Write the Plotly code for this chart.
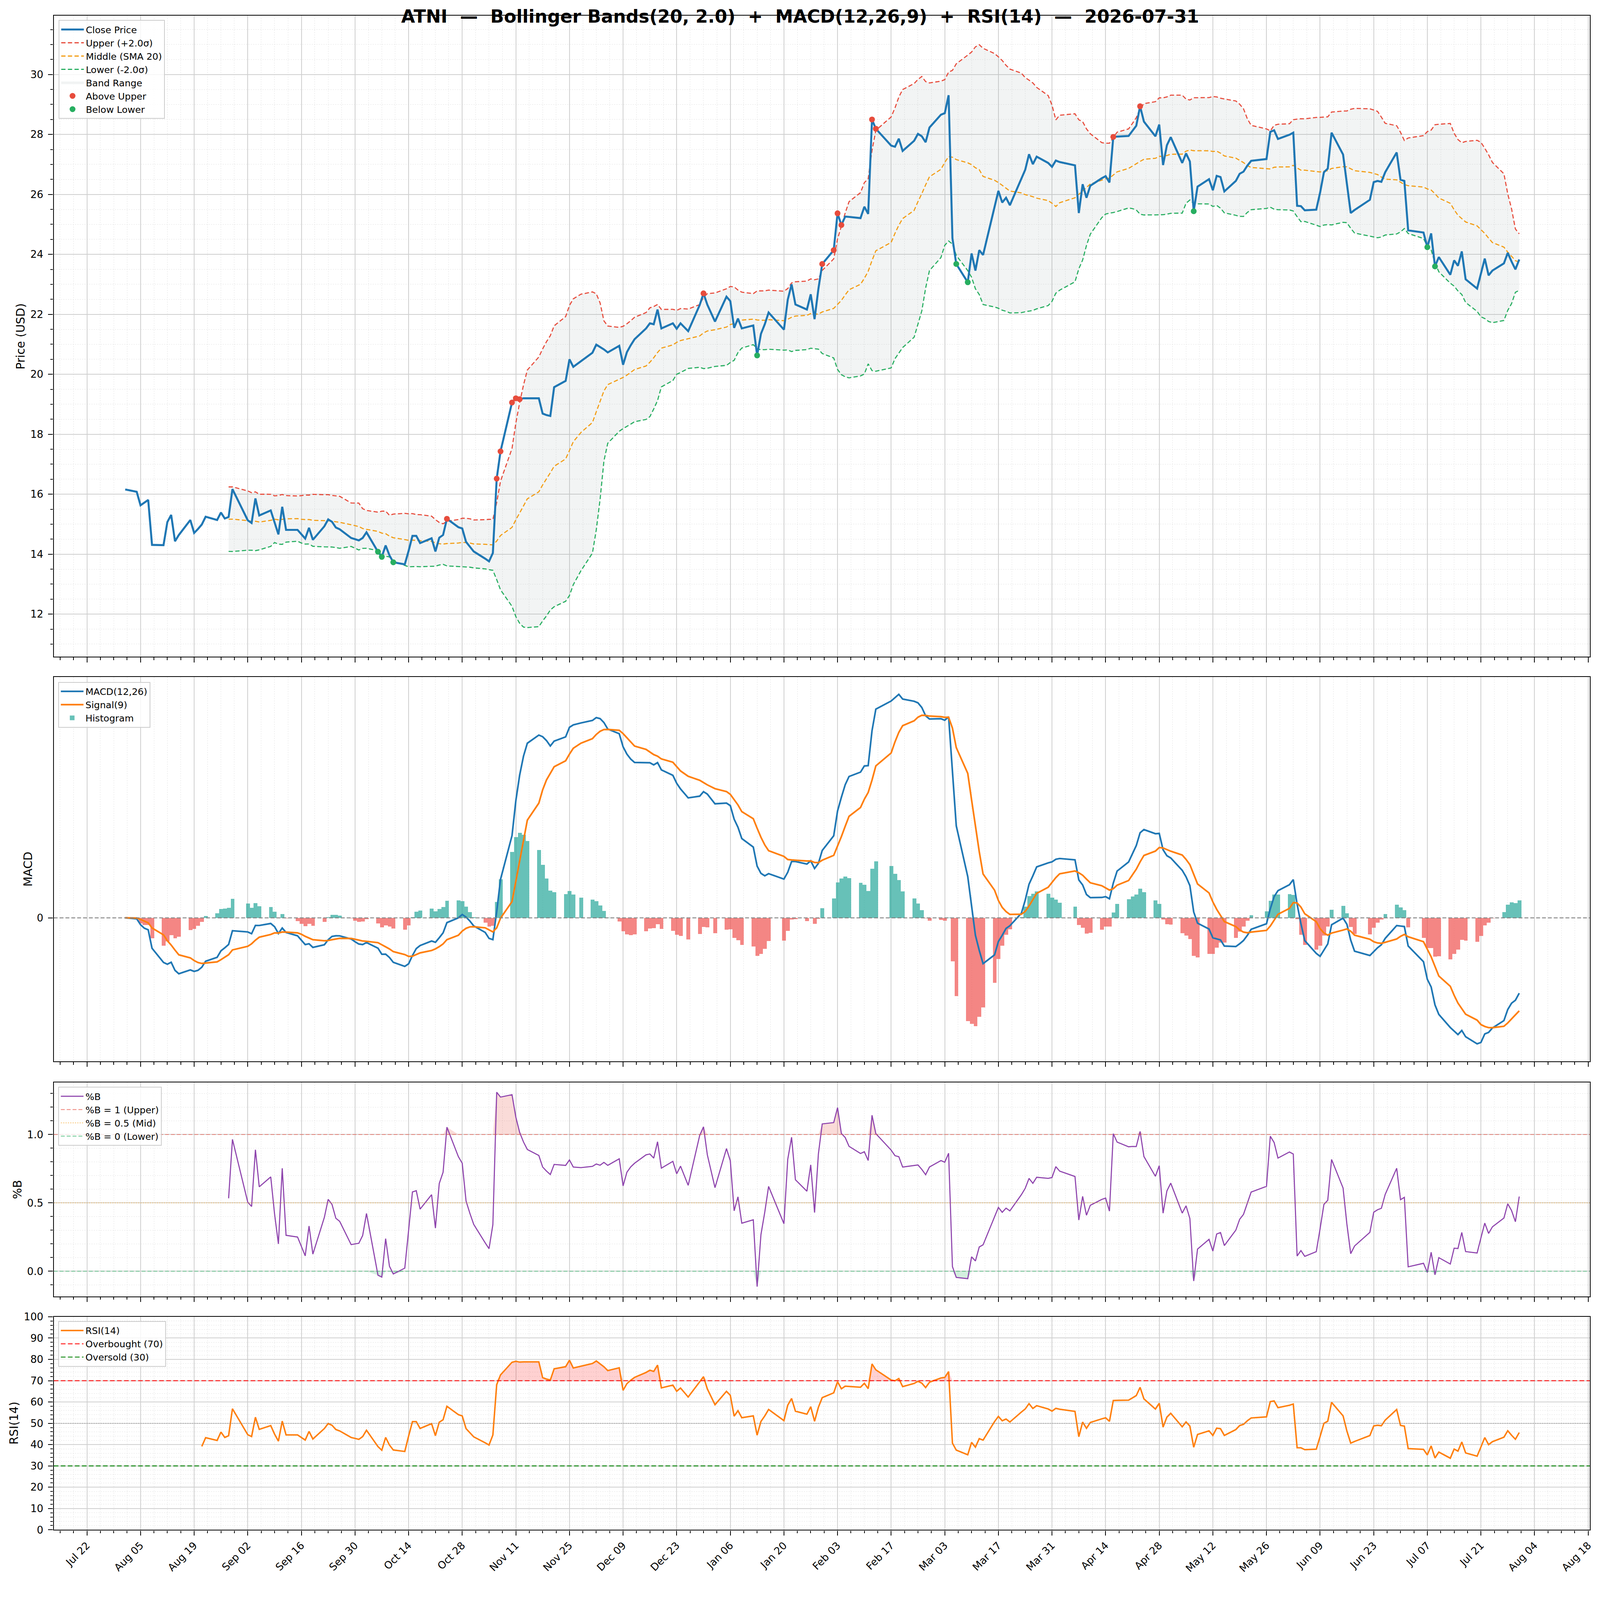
import numpy as np
import pandas as pd
import plotly.graph_objects as go

# ---- data ----
TICKER = "ATNI"
AS_OF = "2026-07-31"
HOLIDAYS = ["2025-09-01", "2025-11-27", "2025-12-25", "2026-01-01", "2026-01-19",
            "2026-02-16", "2026-04-03", "2026-05-25", "2026-06-19", "2026-07-03"]

close_2025_08 = [16.16, 16.08, 15.63, 15.72, 15.81, 14.31, 14.30, 15.07, 15.31, 14.43, 14.64,
                 15.14, 14.71, 14.84, 14.99, 15.25, 15.14, 15.39, 15.19, 15.24, 16.17]
close_2025_09 = [15.13, 15.04, 15.86, 15.29, 15.46, 15.04, 14.66, 15.58, 14.81, 14.81, 14.66,
                 14.52, 14.88, 14.48, 14.93, 15.16, 15.08, 14.89, 14.83, 14.54, 14.50]
close_2025_10 = [14.46, 14.54, 14.73, 14.08, 13.91, 14.29, 13.96, 13.73, 13.66, 14.11, 14.61,
                 14.61, 14.37, 14.53, 14.09, 14.55, 14.64, 15.18, 14.90, 14.86, 14.41, 14.25, 14.09]
close_2025_11 = [13.85, 13.76, 14.04, 16.52, 17.43, 19.06, 19.20, 19.17, 19.20, 19.20, 19.20,
                 18.69, 18.64, 18.61, 19.57, 19.78, 20.50, 20.25, 20.44]
close_2025_12 = [20.72, 20.99, 20.91, 20.83, 20.73, 20.95, 20.32, 20.74, 20.97, 21.17, 21.53,
                 21.70, 21.67, 22.16, 21.53, 21.70, 21.52, 21.70, 21.44, 22.31, 22.70, 22.32]
close_2026_01 = [21.76, 22.59, 22.44, 21.55, 21.86, 21.53, 21.63, 20.63, 21.35, 21.67, 22.06,
                 21.49, 22.49, 23.00, 22.33, 22.16, 22.67, 21.84, 22.85, 23.68]
close_2026_02 = [24.14, 25.37, 24.98, 25.26, 25.25, 25.21, 25.59, 25.35, 28.50, 28.19, 27.63,
                 27.59, 27.86, 27.45, 27.79, 28.02, 27.94, 27.74, 28.23]
close_2026_03 = [28.66, 28.71, 29.31, 24.54, 23.68, 23.07, 24.03, 23.46, 24.14, 23.98, 25.60,
                 26.12, 25.73, 25.89, 25.64, 26.53, 26.82, 27.34, 27.01, 27.26, 27.05, 26.92]
close_2026_04 = [27.13, 27.08, 26.97, 25.38, 26.34, 25.89, 26.29, 26.54, 26.61, 26.40, 27.92,
                 27.93, 27.95, 28.12, 28.29, 28.94, 28.43, 27.94, 28.33, 26.98, 27.64]
close_2026_05 = [27.91, 27.05, 27.37, 27.10, 25.44, 26.26, 26.51, 26.14, 26.62, 26.58, 26.10,
                 26.45, 26.69, 26.76, 26.96, 27.12, 27.18, 28.09, 28.14, 27.85]
close_2026_06 = [27.99, 28.06, 25.62, 25.61, 25.47, 25.49, 26.06, 26.74, 26.86, 28.06, 27.33,
                 26.34, 25.38, 25.48, 25.82, 26.41, 26.45, 26.42, 26.74, 27.40, 26.49]
close_2026_07 = [26.45, 24.80, 24.73, 24.24, 24.70, 23.60, 23.91, 23.32, 23.80, 23.62, 24.10,
                 23.17, 22.86, 23.34, 23.86, 23.30, 23.46, 23.70, 24.05, 23.76, 23.50, 23.83]

BB_N, BB_K = 20, 2.0
dates = pd.bdate_range("2025-08-01", AS_OF, freq="C", holidays=HOLIDAYS)
close = pd.Series(close_2025_08 + close_2025_09 + close_2025_10 + close_2025_11 +
                  close_2025_12 + close_2026_01 + close_2026_02 + close_2026_03 +
                  close_2026_04 + close_2026_05 + close_2026_06 + close_2026_07, index=dates)

# indicators
mid = close.rolling(BB_N).mean()
sd = close.rolling(BB_N).std()
upper = mid + BB_K * sd
lower = mid - BB_K * sd
pctb = (close - lower) / (upper - lower)

macd = close.ewm(span=12, adjust=False).mean() - close.ewm(span=26, adjust=False).mean()
signal = macd.ewm(span=9, adjust=False).mean()
hist = macd - signal

delta = close.diff()
gain = delta.clip(lower=0).ewm(alpha=1 / 14, adjust=False, min_periods=14).mean()
loss = (-delta.clip(upper=0)).ewm(alpha=1 / 14, adjust=False, min_periods=14).mean()
rsi = 100 - 100 / (1 + gain / loss)

bb = mid.notna()
above = close[close > upper]
below = close[close < lower]

# ---- figure ----
# the page shows up ~1.07x enlarged in the photo, so lay out in a smaller css box
F = 4378 / 4096
W, H = 4080, 4030
FONT = "DejaVu Sans"
XR = [pd.Timestamp("2025-07-13 08:00"), pd.Timestamp("2026-08-18 10:00")]
DAY = 86400000


def s(v):
    return v / F


def fx(px):
    return (px / F - 8) / W


def fy(py):
    return 1 - (py / F - 8) / H


def ydom(top, bot):
    return [fy(bot), fy(top)]


def padded(*series, frac=0.05):
    lo = min(float(q.min()) for q in series)
    hi = max(float(q.max()) for q in series)
    return [lo - frac * (hi - lo), hi + frac * (hi - lo)]


XDOM = [fx(147), fx(4350)]
DASH = f"{s(12):.0f}px,{s(6):.0f}px"

grid_major = dict(showgrid=True, gridcolor="#cfcfcf", gridwidth=s(2))
minor_style = dict(ticks="outside", ticklen=s(7), tickwidth=s(2), tickcolor="black",
                   showgrid=True, gridcolor="#e3e3e3", gridwidth=s(1.5), griddash="dot")
axis_line = dict(showline=True, linecolor="black", linewidth=s(2.5), mirror=True,
                 ticks="outside", ticklen=s(13), tickwidth=s(2.5), tickcolor="black",
                 automargin=False, zeroline=False,
                 tickfont=dict(size=s(28), family=FONT, color="black"))
STANDOFF = 7

fig = go.Figure()

# price panel
fig.add_trace(go.Scatter(x=dates[bb], y=upper[bb], mode="lines", line=dict(width=0),
                         showlegend=False, hoverinfo="skip", xaxis="x", yaxis="y"))
fig.add_trace(go.Scatter(x=dates[bb], y=lower[bb], mode="lines", line=dict(width=0.5, color="#dfe4e4"),
                         fill="tonexty", fillcolor="rgba(149,165,166,0.12)", name="Band Range",
                         legend="legend", legendrank=5, xaxis="x", yaxis="y"))
fig.add_trace(go.Scatter(x=dates[bb], y=upper[bb], mode="lines", name="Upper (+2.0σ)",
                         line=dict(color="#e74c3c", width=s(3), dash=DASH),
                         legend="legend", legendrank=2, xaxis="x", yaxis="y"))
fig.add_trace(go.Scatter(x=dates[bb], y=mid[bb], mode="lines", name="Middle (SMA 20)",
                         line=dict(color="#f39c12", width=s(3), dash=DASH),
                         legend="legend", legendrank=3, xaxis="x", yaxis="y"))
fig.add_trace(go.Scatter(x=dates[bb], y=lower[bb], mode="lines", name="Lower (-2.0σ)",
                         line=dict(color="#27ae60", width=s(3), dash=DASH),
                         legend="legend", legendrank=4, xaxis="x", yaxis="y"))
fig.add_trace(go.Scatter(x=dates, y=close, mode="lines", name="Close Price",
                         line=dict(color="#1f77b4", width=s(5.5)),
                         legend="legend", legendrank=1, xaxis="x", yaxis="y"))
fig.add_trace(go.Scatter(x=above.index, y=above, mode="markers", name="Above Upper",
                         marker=dict(color="#e74c3c", size=s(16)),
                         legend="legend", legendrank=6, xaxis="x", yaxis="y"))
fig.add_trace(go.Scatter(x=below.index, y=below, mode="markers", name="Below Lower",
                         marker=dict(color="#27ae60", size=s(16)),
                         legend="legend", legendrank=7, xaxis="x", yaxis="y"))

# MACD panel
bar_colors = np.where(hist >= 0, "rgba(38,166,154,0.7)", "rgba(239,83,80,0.7)")
fig.add_trace(go.Bar(x=dates, y=hist, width=DAY, marker=dict(color=bar_colors, line=dict(width=0)),
                     name="Histogram", legend="legend2", legendrank=3, xaxis="x2", yaxis="y2"))
fig.add_trace(go.Scatter(x=dates, y=macd, mode="lines", name="MACD(12,26)",
                         line=dict(color="#1f77b4", width=s(4.5)),
                         legend="legend2", legendrank=1, xaxis="x2", yaxis="y2"))
fig.add_trace(go.Scatter(x=dates, y=signal, mode="lines", name="Signal(9)",
                         line=dict(color="#ff7f0e", width=s(4.5)),
                         legend="legend2", legendrank=2, xaxis="x2", yaxis="y2"))

# %B panel
pb = pctb[bb]
fig.add_trace(go.Scatter(x=pb.index, y=pb * 0 + 1, mode="lines", line=dict(width=0),
                         showlegend=False, hoverinfo="skip", xaxis="x3", yaxis="y3"))
fig.add_trace(go.Scatter(x=pb.index, y=pb.clip(lower=1), mode="lines", line=dict(width=0),
                         fill="tonexty", fillcolor="rgba(231,76,60,0.2)",
                         showlegend=False, hoverinfo="skip", xaxis="x3", yaxis="y3"))
fig.add_trace(go.Scatter(x=pb.index, y=pb * 0, mode="lines", line=dict(width=0),
                         showlegend=False, hoverinfo="skip", xaxis="x3", yaxis="y3"))
fig.add_trace(go.Scatter(x=pb.index, y=pb.clip(upper=0), mode="lines", line=dict(width=0),
                         fill="tonexty", fillcolor="rgba(39,174,96,0.2)",
                         showlegend=False, hoverinfo="skip", xaxis="x3", yaxis="y3"))
fig.add_trace(go.Scatter(x=pb.index, y=pb, mode="lines", name="%B",
                         line=dict(color="#8e44ad", width=s(3)),
                         legend="legend3", legendrank=1, xaxis="x3", yaxis="y3"))

# RSI panel
rs = rsi.dropna()
fig.add_trace(go.Scatter(x=rs.index, y=rs * 0 + 70, mode="lines", line=dict(width=0),
                         showlegend=False, hoverinfo="skip", xaxis="x4", yaxis="y4"))
fig.add_trace(go.Scatter(x=rs.index, y=rs.clip(lower=70), mode="lines", line=dict(width=0),
                         fill="tonexty", fillcolor="rgba(255,0,0,0.18)",
                         showlegend=False, hoverinfo="skip", xaxis="x4", yaxis="y4"))
fig.add_trace(go.Scatter(x=rs.index, y=rs * 0 + 30, mode="lines", line=dict(width=0),
                         showlegend=False, hoverinfo="skip", xaxis="x4", yaxis="y4"))
fig.add_trace(go.Scatter(x=rs.index, y=rs.clip(upper=30), mode="lines", line=dict(width=0),
                         fill="tonexty", fillcolor="rgba(0,128,0,0.18)",
                         showlegend=False, hoverinfo="skip", xaxis="x4", yaxis="y4"))
fig.add_trace(go.Scatter(x=rs.index, y=rs, mode="lines", name="RSI(14)",
                         line=dict(color="#ff7f0e", width=s(4)),
                         legend="legend4", legendrank=1, xaxis="x4", yaxis="y4"))

# horizontal reference lines spanning the axis range, plus legend-only entries
ref_lines = [
    ("x2", "y2", 0, "rgba(128,128,128,0.9)", "10px,5px", 2.5, None, None, None),
    ("x3", "y3", 1, "rgba(231,76,60,0.7)", "10px,5px", 2, "%B = 1 (Upper)", "legend3", 2),
    ("x3", "y3", 0.5, "rgba(243,156,18,0.6)", "dot", 2, "%B = 0.5 (Mid)", "legend3", 3),
    ("x3", "y3", 0, "rgba(39,174,96,0.7)", "10px,5px", 2, "%B = 0 (Lower)", "legend3", 4),
    ("x4", "y4", 70, "rgba(255,0,0,0.8)", "12px,6px", 3, "Overbought (70)", "legend4", 2),
    ("x4", "y4", 30, "rgba(0,128,0,0.8)", "12px,6px", 3, "Oversold (30)", "legend4", 3),
    ("x4", "y4", 50, "rgba(128,128,128,0.6)", "dot", 2, None, None, None),
]
for xa, ya, yv, color, dash, width, name, legend, rank in ref_lines:
    fig.add_trace(go.Scatter(x=XR, y=[yv, yv], mode="lines", showlegend=False, hoverinfo="skip",
                             line=dict(color=color, dash=dash, width=s(width)), xaxis=xa, yaxis=ya))
    if name:
        fig.add_trace(go.Scatter(x=[None], y=[None], mode="lines", name=name,
                                 line=dict(color=color, dash=dash, width=s(width)),
                                 legend=legend, legendrank=rank, xaxis=xa, yaxis=ya))

xcommon = dict(range=XR, domain=XDOM, type="date", tick0="2025-07-22", dtick=14 * DAY,
               tickformat="%b %d", **grid_major, **axis_line,
               minor=dict(tick0="2025-07-22", dtick=3.5 * DAY, **minor_style))

leg = dict(xanchor="left", yanchor="top", bgcolor="rgba(255,255,255,0.8)", traceorder="normal",
           bordercolor="#cccccc", borderwidth=2, itemwidth=58,
           font=dict(size=s(25.5), family=FONT, color="black"))

fig.update_layout(
    width=W, height=H, margin=dict(l=0, r=0, t=0, b=0), autosize=False,
    plot_bgcolor="white", paper_bgcolor="white",
    font=dict(family=FONT, color="black"),
    bargap=0, showlegend=True,
    xaxis=dict(anchor="y", showticklabels=False, **xcommon),
    xaxis2=dict(anchor="y2", matches="x", showticklabels=False, **xcommon),
    xaxis3=dict(anchor="y3", matches="x", showticklabels=False, **xcommon),
    xaxis4=dict(anchor="y4", matches="x", showticklabels=True, tickangle=-45, **xcommon),
    yaxis=dict(domain=ydom(42.7, 1797), range=padded(close, upper[bb], lower[bb]), dtick=2,
               tick0=0, **grid_major, **axis_line, ticklabelstandoff=STANDOFF,
               minor=dict(dtick=0.5, **minor_style)),
    yaxis2=dict(domain=ydom(1852, 2904), range=padded(macd, signal, hist), tickvals=[0],
                showgrid=False, **axis_line, ticklabelstandoff=STANDOFF),
    yaxis3=dict(domain=ydom(2962, 3547), range=padded(pb), tickvals=[0, 0.5, 1.0],
                tickformat=".1f", **grid_major, **axis_line, ticklabelstandoff=STANDOFF,
                minor=dict(dtick=0.1, tick0=0, **minor_style)),
    yaxis4=dict(domain=ydom(3603, 4186), range=[0, 100], dtick=10, **grid_major,
                **axis_line, ticklabelstandoff=STANDOFF, minor=dict(dtick=2, tick0=0, **minor_style)),
    legend=dict(x=fx(160), y=fy(55), **leg),
    legend2=dict(x=fx(159), y=fy(1866), **leg),
    legend3=dict(x=fx(159), y=fy(2974), **leg),
    legend4=dict(x=fx(159), y=fy(3615), **leg),
)

title = "\u00a0\u00a0".join([TICKER, "—", f"Bollinger Bands({BB_N}, {BB_K})", "+",
                             "MACD(12,26,9)", "+", "RSI(14)", "—", AS_OF])
fig.add_annotation(text=f"<b>{title}</b>", xref="paper", yref="paper", x=fx(2189), y=fy(45),
                   xanchor="center", yanchor="middle", showarrow=False,
                   font=dict(size=s(49), family=FONT, color="black"))

for label, cx, top, bot in [("Price (USD)", 56, 42.7, 1797), ("MACD", 77, 1852, 2904),
                            ("%B", 48, 2962, 3547), ("RSI(14)", 38, 3603, 4186)]:
    fig.add_annotation(text=label, xref="paper", yref="paper", x=fx(cx), y=fy((top + bot) / 2),
                       xanchor="center", yanchor="middle", textangle=-90, showarrow=False,
                       font=dict(size=s(32), family=FONT, color="black"))

fig.write_html("out.html")
